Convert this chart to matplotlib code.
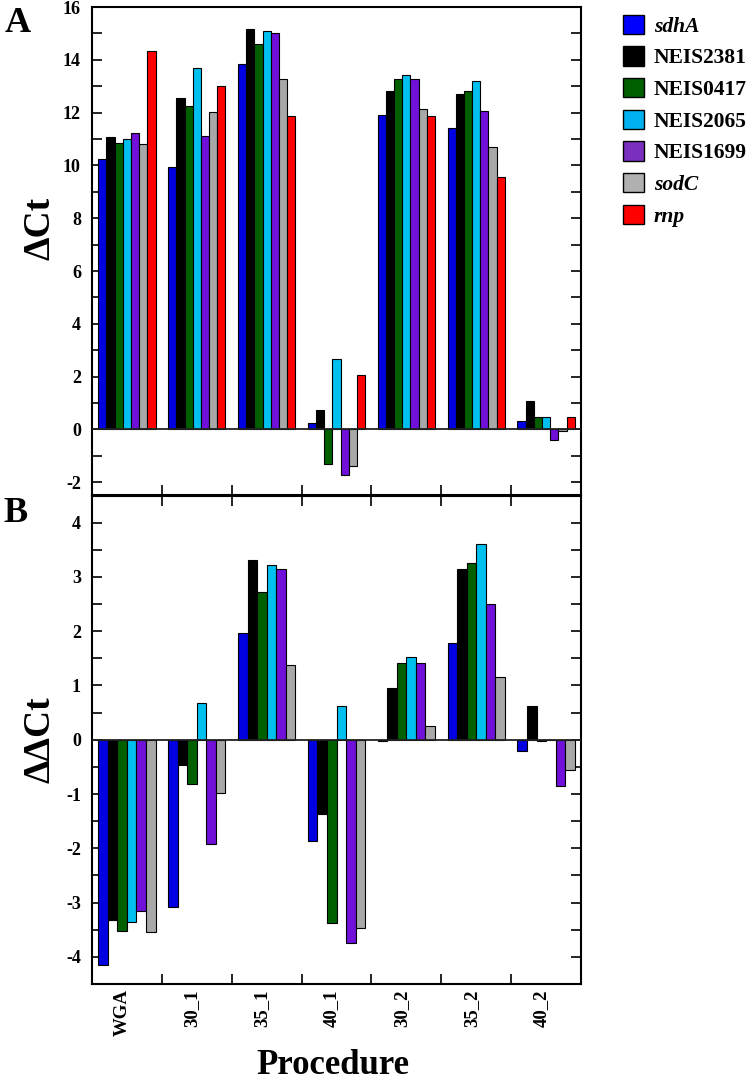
"""
Delta Ct / Delta Delta Ct bar panels
"""
import numpy
import matplotlib
matplotlib.use('Agg')
import matplotlib.pyplot as plt
from matplotlib.patches import Patch

procedures = ['WGA', '30_1', '35_1', '40_1', '30_2', '35_2', '40_2']
genes = ['sdhA', 'NEIS2381', 'NEIS0417', 'NEIS2065', 'NEIS1699', 'sodC', 'rnp']
italic_genes = ['sdhA', 'sodC', 'rnp']
colors = ['#0000e0', '#000000', '#006000', '#00c0f0', '#7010d8', '#a8a8a8', '#ff0000']

# panel A : delta Ct, one list per gene, one value per procedure
dct_sdhA     = [10.25,  9.95, 13.85,  0.25, 11.90, 11.40,  0.32]
dct_NEIS2381 = [11.07, 12.57, 15.17,  0.73, 12.83, 12.72,  1.08]
dct_NEIS0417 = [10.85, 12.25, 14.60, -1.30, 13.27, 12.83,  0.47]
dct_NEIS2065 = [11.00, 13.70, 15.11,  2.68, 13.43, 13.18,  0.47]
dct_NEIS1699 = [11.22, 11.12, 15.01, -1.72, 13.26, 12.08, -0.38]
dct_sodC     = [10.80, 12.04, 13.27, -1.40, 12.14, 10.70, -0.06]
dct_rnp      = [14.35, 13.00, 11.88,  2.07, 11.88,  9.57,  0.47]

# panel B : delta delta Ct (no rnp)
ddct_sdhA     = [-4.15, -3.09, 1.96, -1.86, -0.03, 1.78, -0.20]
ddct_NEIS2381 = [-3.32, -0.46, 3.31, -1.37,  0.96, 3.14,  0.63]
ddct_NEIS0417 = [-3.52, -0.82, 2.72, -3.37,  1.41, 3.26, -0.02]
ddct_NEIS2065 = [-3.35,  0.67, 3.22,  0.63,  1.53, 3.61,  0.00]
ddct_NEIS1699 = [-3.16, -1.92, 3.15, -3.74,  1.41, 2.50, -0.86]
ddct_sodC     = [-3.55, -0.99, 1.37, -3.47,  0.25, 1.15, -0.55]

dct = [dct_sdhA, dct_NEIS2381, dct_NEIS0417, dct_NEIS2065, dct_NEIS1699, dct_sodC, dct_rnp]
ddct = [ddct_sdhA, ddct_NEIS2381, ddct_NEIS0417, ddct_NEIS2065, ddct_NEIS1699, ddct_sodC]

plt.rcParams['font.family'] = ['Liberation Serif', 'DejaVu Serif']
plt.rcParams['font.weight'] = 'bold'
plt.rcParams['axes.unicode_minus'] = False


def draw_bars(ax, series):
  n = len(series)
  w = 0.82 / n
  base = numpy.arange(len(procedures))
  for k, vals in enumerate(series):
    ax.bar(base + 0.09 + k * w, vals, width=w, align='edge', color=colors[k],
           edgecolor='black', linewidth=0.8, zorder=2)
  ax.axhline(0, color='#222222', linewidth=1.3, zorder=3)
  ax.set_xlim(0, len(procedures))
  for side in ax.spines.values():
    side.set_linewidth(1.5)
  ax.set_xticks(numpy.arange(1, len(procedures)), minor=True)
  ax.yaxis.set_ticks_position('both')
  ax.tick_params(axis='y', which='both', direction='in', length=7, width=1.2,
                 labelsize=13, pad=8)


fig = plt.figure(figsize=(7.5, 10.84), dpi=100)
axA = fig.add_axes([92 / 750, 1 - 495.5 / 1084, 489 / 750, 488.5 / 1084])
axB = fig.add_axes([92 / 750, 1 - 984 / 1084, 489 / 750, 488.5 / 1084])

draw_bars(axA, dct)
axA.set_ylim(-2.5, 16)
axA.set_yticks(numpy.arange(-2, 17, 2))
axA.set_yticks(numpy.arange(-2, 17, 1), minor=True)
axA.set_xticks([])
axA.tick_params(axis='x', which='minor', direction='in', length=7, width=1.2,
                bottom=True, top=False)

draw_bars(axB, ddct)
axB.set_ylim(-4.5, 4.5)
axB.set_yticks(numpy.arange(-4, 5, 1))
axB.set_yticks(numpy.arange(-4, 4.6, 0.5), minor=True)
axB.set_xticks(numpy.arange(len(procedures)) + 0.43)
axB.set_xticklabels(procedures, rotation=90, fontsize=13.5)
axB.tick_params(axis='x', which='major', length=0, pad=4)
axB.tick_params(axis='x', which='minor', direction='in', length=7, width=1.2,
                bottom=True, top=True)

fig.text(40 / 750, 1 - 228 / 1084, '\u0394Ct', rotation=90, fontsize=27,
         ha='center', va='center')
fig.text(40 / 750, 1 - 740 / 1084, '\u0394\u0394Ct', rotation=90, fontsize=27,
         ha='center', va='center')
fig.text(333 / 750, 1 - 1082 / 1084, 'Procedure', fontsize=25,
         ha='center', va='bottom')
fig.text(18 / 750, 1 - 23 / 1084, 'A', fontsize=26, ha='center', va='center')
fig.text(15 / 750, 1 - 514 / 1084, 'B', fontsize=26, ha='center', va='center')

handles = [Patch(facecolor=c, edgecolor='black', linewidth=1.0)
           for c in ['#0000ff', '#000000', '#006000', '#00b0f0', '#7b2fbe', '#b0b0b0', '#ff0000']]
leg = fig.legend(handles, genes, loc='upper left', bbox_to_anchor=(614 / 750, 1 - 6 / 1084),
                 frameon=False, fontsize=15.5, handlelength=1.0, handleheight=1.0,
                 handletextpad=0.45, labelspacing=0.45, borderaxespad=0)
for t in leg.get_texts():
  if t.get_text() in italic_genes:
    t.set_style('italic')

plt.savefig('out.png', dpi=100)
plt.close(fig)
